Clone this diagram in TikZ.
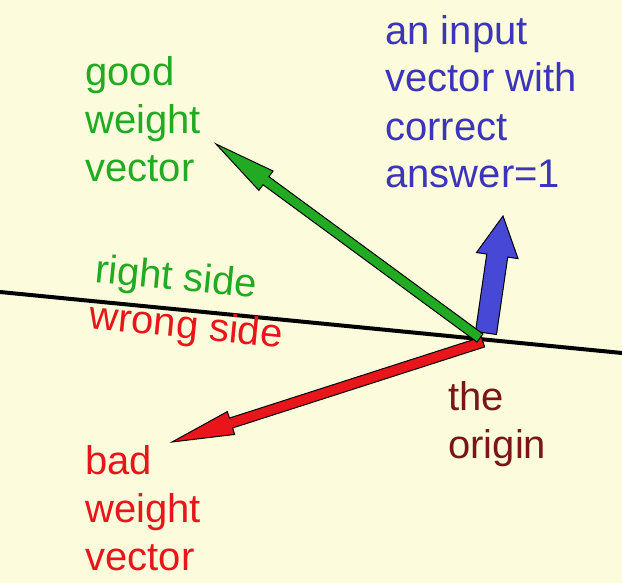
\documentclass[tikz,border=0pt]{standalone}
\usepackage{fontspec}
\setmainfont{Liberation Sans}
\usepackage{tikz}
\usetikzlibrary{calc}

\definecolor{paper}{RGB}{252,252,221}
\definecolor{goodgreen}{RGB}{34,170,34}
\definecolor{badred}{RGB}{232,22,26}
\definecolor{inblue}{RGB}{60,52,186}
\definecolor{arrowblue}{RGB}{72,72,214}
\definecolor{origred}{RGB}{122,22,22}

% fat vector: style, tail, tip, half shaft width, head length, half head width
\newcommand{\fatvec}[6]{%
  \filldraw[#1] ($(#2)!#4!90:(#3)$) -- ($(#3)!#5!(#2)!#4!90:(#3)$)
    -- ($(#3)!#5!(#2)!#6!90:(#3)$) -- (#3)
    -- ($(#3)!#5!(#2)!#6!-90:(#3)$) -- ($(#3)!#5!(#2)!#4!-90:(#3)$)
    -- ($(#2)!#4!-90:(#3)$) -- cycle;}

\begin{document}
\begin{tikzpicture}[x=0.5pt,y=-0.5pt]
\tikzstyle{every node}=[inner sep=0pt,font=\fontsize{20pt}{24pt}\selectfont]
\tikzstyle{label}=[anchor=base west,align=left]
\tikzstyle{vec}=[draw=black,line width=0.5pt,line join=miter]
\useasboundingbox (0,0) rectangle (622,583);
\fill[paper] (0,0) rectangle (622,583);

% the dividing line
\coordinate (lineL) at (0,292);
\coordinate (lineR) at (622,353);
\draw[line width=2pt] (lineL) -- (lineR);

% vectors
\coordinate (inTail) at (486,333);
\coordinate (inTip) at (503,216);
\coordinate (goodTail) at (480,338);
\coordinate (goodTip) at (216,144);
\coordinate (badTail) at (483,342);
\coordinate (badTip) at (172,442);
\fatvec{vec,fill=arrowblue}{inTail}{inTip}{5.3pt}{20pt}{10.5pt}
\fatvec{vec,fill=badred}{badTail}{badTip}{2.6pt}{31pt}{6pt}
\fatvec{vec,fill=goodgreen}{goodTail}{goodTip}{2.5pt}{31pt}{6pt}

% labels (base = last line)
\node[label,text=goodgreen] (good) at (85,182) {good\\weight\\vector};
\node[label,text=inblue] (input) at (385,188) {an input\\vector with\\correct\\answer=1};
\node[label,text=origred] (origin) at (448,458) {the\\origin};
\node[label,text=badred] (bad) at (85,570) {bad\\weight\\vector};
\node[anchor=base,rotate=-5.6,text=goodgreen] (right) at (175,290) {right side};
\node[anchor=base,rotate=-5.6,text=badred] (wrong) at (185,338) {wrong side};
\end{tikzpicture}
\end{document}
